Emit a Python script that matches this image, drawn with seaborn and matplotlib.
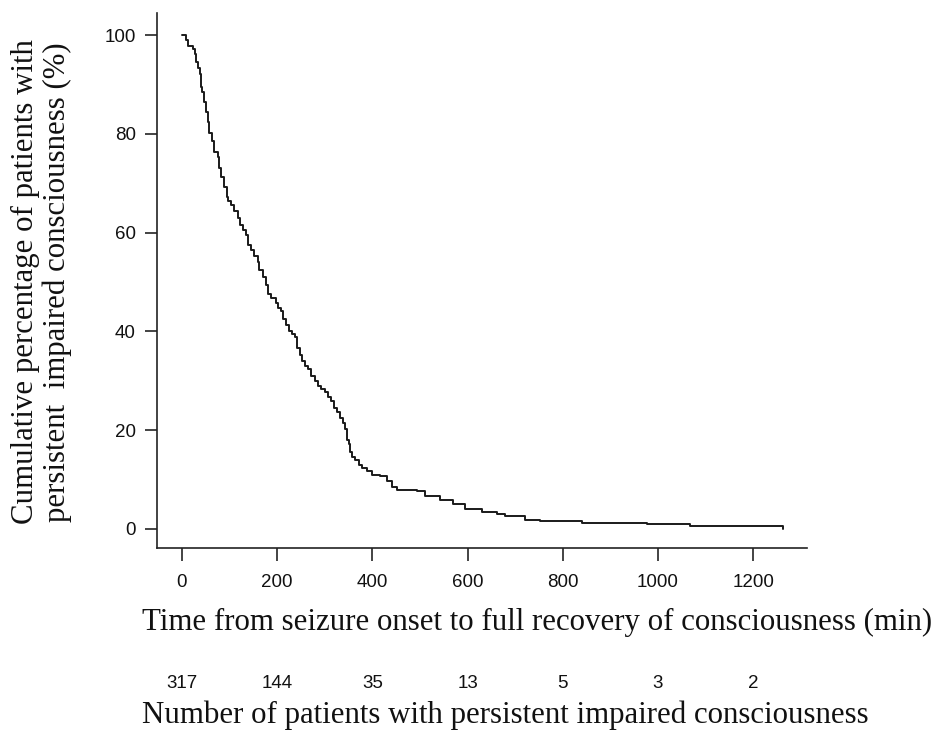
import matplotlib
matplotlib.use("Agg")
import matplotlib.pyplot as plt
import matplotlib.transforms as mtransforms
import seaborn as sns
import pandas as pd

# Step curve breakpoints: time (min) and percentage still impaired after that time
times = [0, 8, 12, 24, 27, 29, 34, 38, 40, 43, 47, 50, 54, 57, 64, 68, 75, 78, 83, 89,
         94, 97, 103, 110, 117, 122, 129, 135, 138, 145, 152, 159, 162, 170, 177, 180,
         188, 198, 201, 209, 213, 219, 224, 231, 238, 241, 248, 252, 259, 265, 271, 280,
         285, 292, 301, 306, 313, 320, 325, 332, 339, 343, 346, 351, 353, 357, 364, 371,
         378, 388, 399, 416, 430, 441, 451, 493, 511, 542, 570, 595, 630, 661, 679, 721,
         752, 840, 977, 1068, 1262]
percent = [100, 99.1, 97.8, 97.2, 96.2, 94.6, 93.4, 92.1, 89.6, 88.6, 86.4, 84.5, 82.4,
           80.1, 78.6, 76.4, 75.3, 73.1, 71.3, 69.3, 67.3, 66.4, 65.6, 64.3, 62.9, 61.5,
           60.6, 59.5, 57.5, 56.5, 55.2, 54.1, 52.4, 51.1, 49.5, 47.6, 46.7, 45.7, 44.7,
           44.2, 42.6, 41.3, 40.1, 39.4, 38.8, 36.6, 35.3, 34.1, 33.1, 32.5, 31.0, 30.0,
           29.0, 28.4, 27.8, 26.8, 25.9, 24.6, 23.7, 22.4, 21.5, 20.2, 18.0, 17.3, 15.5,
           14.5, 13.9, 12.9, 12.3, 11.7, 11.0, 10.7, 9.8, 8.5, 7.9, 7.6, 6.6, 5.9, 5.0,
           4.1, 3.5, 3.0, 2.6, 1.9, 1.6, 1.26, 0.95, 0.63, 0.0]

x_ticks = [0, 200, 400, 600, 800, 1000, 1200]
y_ticks = [0, 20, 40, 60, 80, 100]
at_risk = [317, 144, 35, 13, 5, 3, 2]

xlabel = "Time from seizure onset to full recovery of consciousness (min)"
ylabel = "Cumulative percentage of patients with\npersistent  impaired consciousness (%)"
risk_label = "Number of patients with persistent impaired consciousness"

sns.set_style("ticks")
plt.rcParams["font.family"] = ["Liberation Sans", "DejaVu Sans"]
plt.rcParams["axes.edgecolor"] = "#222222"
plt.rcParams["axes.linewidth"] = 1.2

serif = ["Liberation Serif", "DejaVu Serif"]
big = 22.2
small = 13.5

fig = plt.figure(figsize=(9.35, 7.32), dpi=100)
ax = fig.add_axes([156.7 / 935, 1 - 548 / 732, (807 - 156.7) / 935, (548 - 13) / 732])

df = pd.DataFrame({"time": times, "percent": percent})
sns.lineplot(data=df, x="time", y="percent", ax=ax, drawstyle="steps-post",
             color="#1a1a1a", linewidth=1.4, estimator=None, sort=False)

ax.set_xlim(-53, 1313)
ax.set_ylim(-3.85, 104.5)
ax.set_xticks(x_ticks)
ax.set_yticks(y_ticks)
ax.set_xticklabels([str(v) for v in x_ticks])
ax.set_yticklabels([str(v) for v in y_ticks])
ax.tick_params(axis="y", length=8.6, width=1.1, pad=6.5, labelsize=small, colors="#111111")
ax.tick_params(axis="x", length=9.4, width=1.1, pad=9, labelsize=small, colors="#111111")
sns.despine(ax=ax)
ax.set_xlabel("")
ax.set_ylabel("")

fig.text(41.5 / 935, 1 - 282 / 732, ylabel, family=serif, fontsize=big, rotation=90,
         ha="center", va="center", linespacing=1.1, multialignment="center",
         color="#111111")

fig.text(537 / 935, 1 - 622 / 732, xlabel, family=serif,
         fontsize=big, ha="center", va="center", color="#111111")

trans = mtransforms.blended_transform_factory(ax.transData, fig.transFigure)
for xv, n in zip(x_ticks, at_risk):
    ax.text(xv, 1 - 683 / 732, str(n), transform=trans, ha="center", va="center",
            fontsize=small, color="#111111")

fig.text(505.5 / 935, 1 - 715 / 732, risk_label, family=serif,
         fontsize=big, ha="center", va="center", color="#111111")

fig.savefig("out.png", dpi=100, facecolor="white")
